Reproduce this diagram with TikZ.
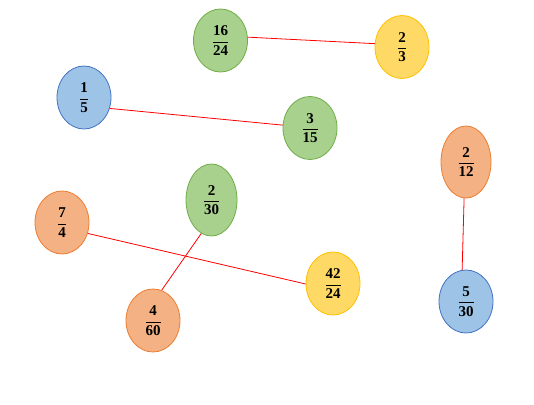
\documentclass[tikz,border=0pt]{standalone}
\usepackage{fontspec}
\setmainfont{Liberation Serif}
\usetikzlibrary{shapes.geometric}
\definecolor{gfill}{HTML}{A9D18E}\definecolor{gdraw}{HTML}{70AD47}
\definecolor{yfill}{HTML}{FFD966}\definecolor{ydraw}{HTML}{FFC000}
\definecolor{bfill}{HTML}{9DC3E6}\definecolor{bdraw}{HTML}{4472C4}
\definecolor{ofill}{HTML}{F4B183}\definecolor{odraw}{HTML}{ED7D31}
\newcommand{\myfr}[2]{$\displaystyle\frac{\textbf{#1}}{\textbf{#2}}$}
\tikzset{
  fracnode/.style={ellipse, inner sep=0pt, minimum width=54pt, minimum height=63pt,
    line width=0.8pt, font=\fontsize{15}{17}\selectfont},
  green/.style={fracnode, fill=gfill, draw=gdraw},
  yellow/.style={fracnode, fill=yfill, draw=ydraw},
  blue/.style={fracnode, fill=bfill, draw=bdraw},
  orange/.style={fracnode, fill=ofill, draw=odraw},
  tall/.style={minimum width=51pt, minimum height=72pt},
  link/.style={draw=red, line width=0.8pt}
}
\begin{document}
\begin{tikzpicture}[x=1pt,y=-1pt]
\useasboundingbox (0,0) rectangle (534,404);
\node[green]  (a) at (220.5,40.5) {\myfr{16}{24}};
\node[yellow] (b) at (402,47)     {\myfr{2}{3}};
\node[blue]   (c) at (84,97.5)    {\myfr{1}{5}};
\node[green]  (d) at (310,128)    {\myfr{3}{15}};
\node[orange] (e) at (62,222.5)   {\myfr{7}{4}};
\node[green,tall] (f) at (211.5,200) {\myfr{2}{30}};
\node[yellow] (g) at (333,283.5)  {\myfr{42}{24}};
\node[orange] (h) at (153,320.5)  {\myfr{4}{60}};
\node[orange,tall,minimum width=50pt] (i) at (466,162) {\myfr{2}{12}};
\node[blue]   (j) at (466,301.5)  {\myfr{5}{30}};
\draw[link] (a.7) -- (b.173);
\draw[link] (c.-23.6) -- (d.174);
\draw[link] (e.-23) -- (g.181);
\draw[link] (f.253) -- (h.74);
\draw[link] (i.267) -- (j.97);
\end{tikzpicture}
\end{document}
